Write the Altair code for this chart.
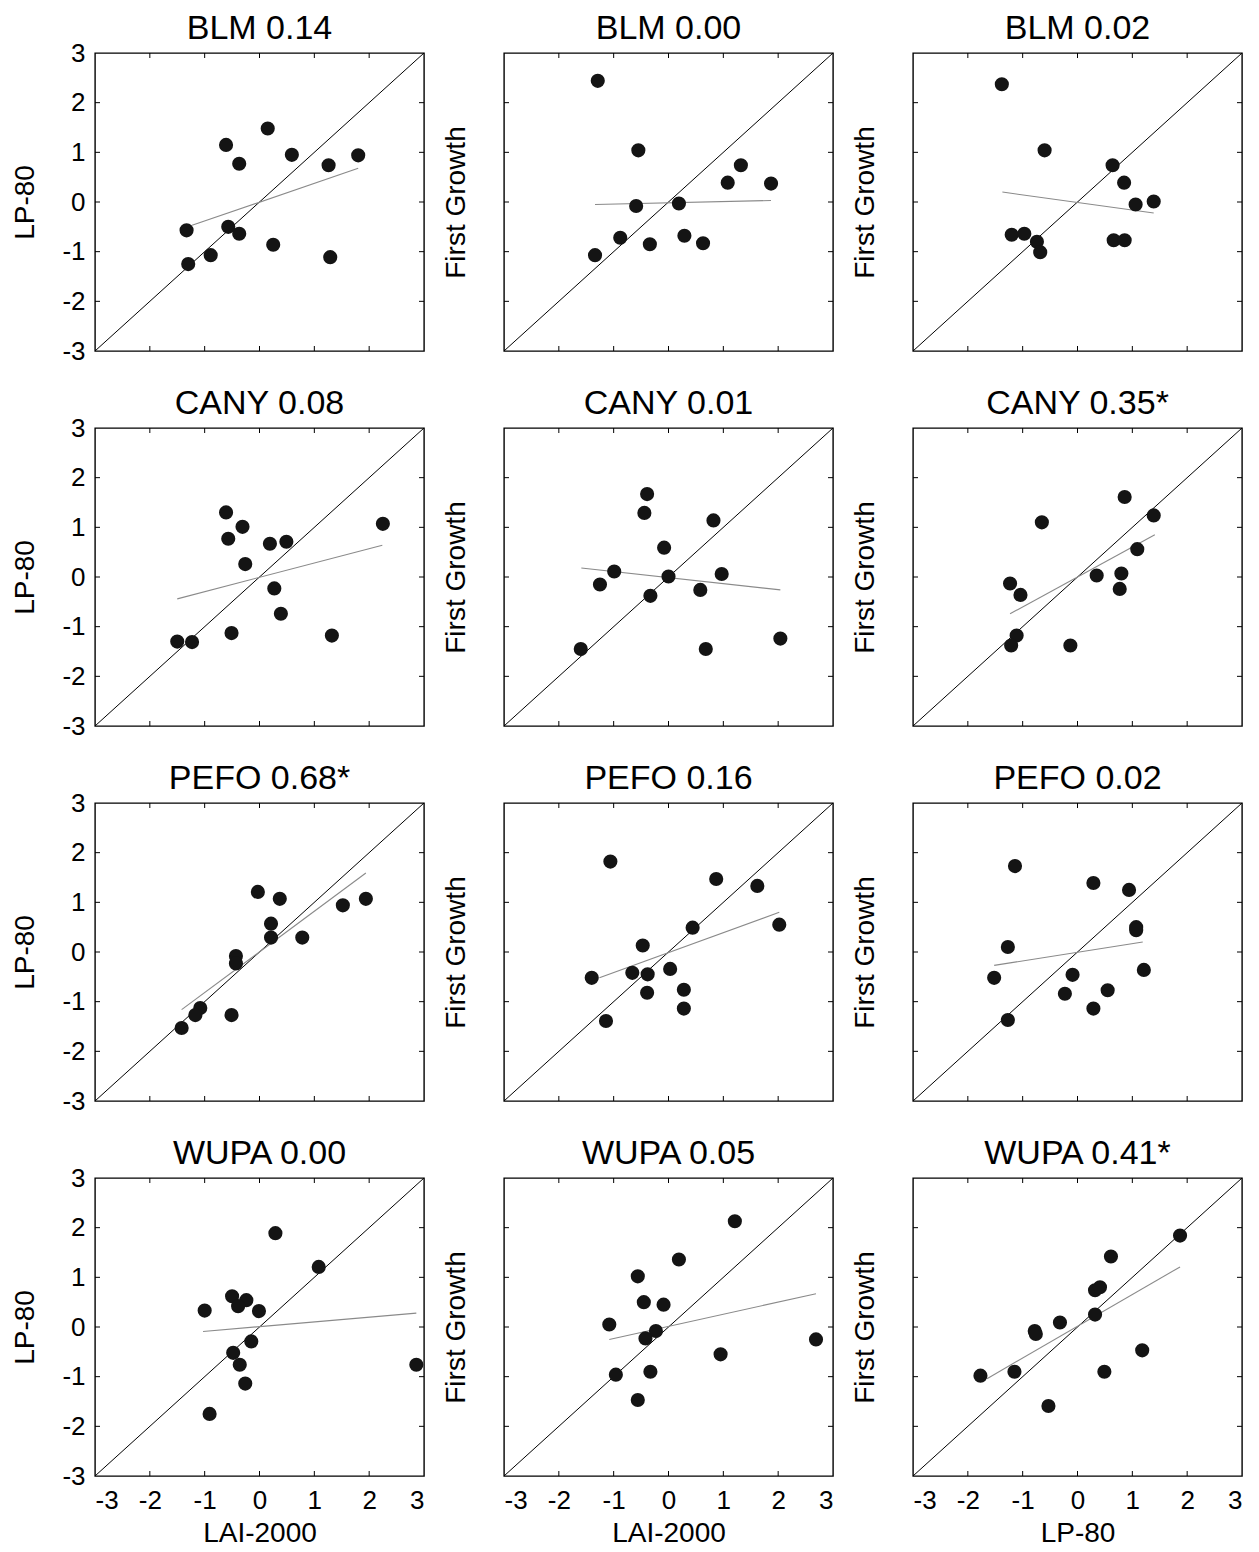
import altair as alt
import pandas as pd

# ---------------- data ----------------
titles = ["BLM 0.14", "BLM 0.00", "BLM 0.02",
          "CANY 0.08", "CANY 0.01", "CANY 0.35*",
          "PEFO 0.68*", "PEFO 0.16", "PEFO 0.02",
          "WUPA 0.00", "WUPA 0.05", "WUPA 0.41*"]
y_titles = ["LP-80", "First Growth", "First Growth"]
x_titles = ["LAI-2000", "LAI-2000", "LP-80"]
tick_values = [-3, -2, -1, 0, 1, 2, 3]
inner_ticks = [-2, -1, 0, 1, 2]

panel_x = [
    [-1.33, -1.30, -0.89, -0.61, -0.57, -0.37, -0.37, 0.15, 0.25, 0.59, 1.26, 1.29, 1.80],
    [-1.29, -0.55, -0.59, -0.88, -1.34, -0.34, 0.19, 0.29, 0.63, 1.08, 1.32, 1.87],
    [-1.38, -0.60, 0.64, 0.85, 1.06, 1.39, -1.20, -0.97, -0.74, -0.68, 0.66, 0.86],
    [-0.61, -0.57, -0.31, -0.26, 0.19, 0.49, 0.27, 0.39, -0.51, -1.50, -1.23, 1.32, 2.25],
    [-0.39, -0.44, 0.82, -0.08, -0.99, -1.25, 0.00, 0.97, 0.58, -0.33, -1.60, 0.68, 2.04],
    [0.86, 1.39, -0.65, 1.09, 0.35, 0.80, 0.77, -1.23, -1.04, -1.11, -1.21, -0.13],
    [-0.03, 0.37, 0.21, 0.21, 0.78, 1.52, 1.94, -0.43, -0.43, -1.08, -1.17, -0.51, -1.42],
    [-1.06, 0.87, 1.62, 0.44, 2.02, -0.47, -0.66, -0.38, 0.03, -1.40, -0.39, 0.28, 0.28, -1.14],
    [-1.14, 0.29, 0.94, 1.07, 1.07, -1.27, -1.52, -0.09, -0.23, 0.55, 0.29, 1.21, -1.27],
    [0.29, 1.08, -0.50, -0.24, -0.39, -1.00, -0.01, -0.15, -0.48, -0.36, -0.26, -0.91, 2.86],
    [1.21, 0.19, -0.56, -0.45, -0.09, -1.08, -0.23, -0.42, -0.96, -0.33, -0.56, 0.95, 2.69],
    [1.87, 0.61, 0.32, 0.41, 0.32, -0.32, -0.78, -0.76, -1.77, -1.15, -0.53, 0.49, 1.18],
]
panel_y = [
    [-0.57, -1.25, -1.07, 1.15, -0.50, -0.64, 0.77, 1.48, -0.86, 0.95, 0.74, -1.11, 0.94],
    [2.44, 1.04, -0.08, -0.72, -1.07, -0.85, -0.03, -0.68, -0.83, 0.39, 0.74, 0.37],
    [2.37, 1.04, 0.74, 0.39, -0.05, 0.01, -0.66, -0.64, -0.80, -1.01, -0.77, -0.77],
    [1.30, 0.77, 1.01, 0.26, 0.67, 0.71, -0.23, -0.74, -1.13, -1.30, -1.31, -1.18, 1.07],
    [1.67, 1.29, 1.14, 0.59, 0.11, -0.15, 0.01, 0.06, -0.26, -0.38, -1.45, -1.45, -1.24],
    [1.61, 1.24, 1.10, 0.56, 0.03, 0.07, -0.24, -0.13, -0.36, -1.18, -1.38, -1.38],
    [1.21, 1.07, 0.57, 0.29, 0.29, 0.94, 1.07, -0.08, -0.23, -1.13, -1.27, -1.27, -1.53],
    [1.82, 1.47, 1.33, 0.49, 0.55, 0.13, -0.42, -0.45, -0.34, -0.52, -0.82, -0.76, -1.14, -1.39],
    [1.73, 1.39, 1.25, 0.50, 0.44, 0.10, -0.52, -0.46, -0.84, -0.77, -1.14, -0.36, -1.37],
    [1.89, 1.21, 0.62, 0.54, 0.42, 0.33, 0.32, -0.29, -0.52, -0.76, -1.14, -1.75, -0.76],
    [2.13, 1.36, 1.02, 0.50, 0.45, 0.05, -0.08, -0.23, -0.96, -0.90, -1.47, -0.55, -0.25],
    [1.84, 1.42, 0.74, 0.80, 0.25, 0.09, -0.08, -0.14, -0.98, -0.90, -1.59, -0.90, -0.47],
]
# fitted (grey) line end points
fit_x = [[-1.23, 1.80], [-1.34, 1.87], [-1.37, 1.39],
         [-1.50, 2.24], [-1.59, 2.04], [-1.23, 1.41],
         [-1.42, 1.94], [-1.26, 2.02], [-1.52, 1.19],
         [-1.03, 2.86], [-1.08, 2.69], [-1.65, 1.87]]
fit_y = [[-0.47, 0.68], [-0.05, 0.03], [0.20, -0.22],
         [-0.44, 0.64], [0.18, -0.26], [-0.74, 0.85],
         [-1.16, 1.59], [-0.52, 0.80], [-0.27, 0.20],
         [-0.09, 0.28], [-0.25, 0.67], [-1.04, 1.21]]

# ---------------- styling ----------------
W, H = 329, 298
FONT = "Liberation Sans"
LO, HI = tick_values[0], tick_values[-1]
TX = 5 / (W / (HI - LO))   # inward tick length in data units (5 px)
TY = 5 / (H / (HI - LO))

tick_rows = []
for v in inner_ticks:
    tick_rows.append(dict(x1=LO, x2=LO + TX, y1=v, y2=v))
    tick_rows.append(dict(x1=HI - TX, x2=HI, y1=v, y2=v))
    tick_rows.append(dict(x1=v, x2=v, y1=LO, y2=LO + TY))
    tick_rows.append(dict(x1=v, x2=v, y1=HI - TY, y2=HI))
ticks_df = pd.DataFrame(tick_rows)
diag_df = pd.DataFrame({"x1": [LO], "y1": [LO], "x2": [HI], "y2": [HI]})


def make_panel(i):
    row, col = divmod(i, 3)
    sx = alt.Scale(domain=[LO, HI], nice=False, zero=False)
    sy = alt.Scale(domain=[LO, HI], nice=False, zero=False)

    if row == 3:
        xaxis = alt.Axis(values=tick_values, labelExpr="'' + datum.value",
                         title=x_titles[col], labelFontSize=26, titleFontSize=28,
                         ticks=False, tickSize=0, domain=False, grid=False,
                         labelPadding=11, titlePadding=6, labelAngle=0,
                         titleFontWeight="normal", labelFont=FONT, titleFont=FONT,
                         labelColor="black", titleColor="black")
    else:
        xaxis = None
    if col == 0:
        yaxis = alt.Axis(values=tick_values, labelExpr="'' + datum.value",
                         title=y_titles[col], labelFontSize=26, titleFontSize=28,
                         ticks=False, tickSize=0, domain=False, grid=False,
                         labelPadding=10, titlePadding=22,
                         titleFontWeight="normal", labelFont=FONT, titleFont=FONT,
                         labelColor="black", titleColor="black")
    else:
        yaxis = alt.Axis(values=tick_values, labels=False, title=y_titles[col],
                         titleFontSize=28, ticks=False, tickSize=0, domain=False,
                         grid=False, titlePadding=34,
                         titleFontWeight="normal", titleFont=FONT, titleColor="black")

    pts = pd.DataFrame({"x1": panel_x[i], "y1": panel_y[i]})
    fit = pd.DataFrame({"x1": [fit_x[i][0]], "x2": [fit_x[i][1]],
                        "y1": [fit_y[i][0]], "y2": [fit_y[i][1]]})
    ttl = pd.DataFrame({"t": [titles[i]]})

    X = alt.X("x1:Q", scale=sx, axis=xaxis)
    Y = alt.Y("y1:Q", scale=sy, axis=yaxis)

    tick_layer = alt.Chart(ticks_df).mark_rule(color="black", strokeWidth=1).encode(
        x=X, x2="x2:Q", y=Y, y2="y2:Q")
    diag_layer = alt.Chart(diag_df).mark_rule(color="black", strokeWidth=1).encode(
        x=X, x2="x2:Q", y=Y, y2="y2:Q")
    fit_layer = alt.Chart(fit).mark_rule(color="#8a8a8a", strokeWidth=1.1).encode(
        x=X, x2="x2:Q", y=Y, y2="y2:Q")
    pt_layer = alt.Chart(pts).mark_circle(size=200, color="#141414", opacity=1).encode(
        x=X, y=Y)
    title_layer = alt.Chart(ttl).mark_text(
        font=FONT, fontSize=34, color="black", align="center",
        baseline="alphabetic").encode(
        text="t:N", x=alt.value(W / 2), y=alt.value(-14))

    return alt.layer(tick_layer, diag_layer, fit_layer, pt_layer,
                     title_layer).properties(width=W, height=H)


panels = [make_panel(i) for i in range(12)]

chart = alt.concat(*panels, columns=3, spacing={"row": 77, "column": 80},
                   bounds="flush").properties(
    padding={"left": 11, "top": 11, "right": 5, "bottom": 0},
    background="white"
).configure_view(
    stroke="black", strokeWidth=1.4
).configure_axis(
    labelFont=FONT, titleFont=FONT, labelColor="black", titleColor="black",
    titleFontWeight="normal"
)

chart.save("out.html", embed_options={"renderer": "svg", "actions": False})
